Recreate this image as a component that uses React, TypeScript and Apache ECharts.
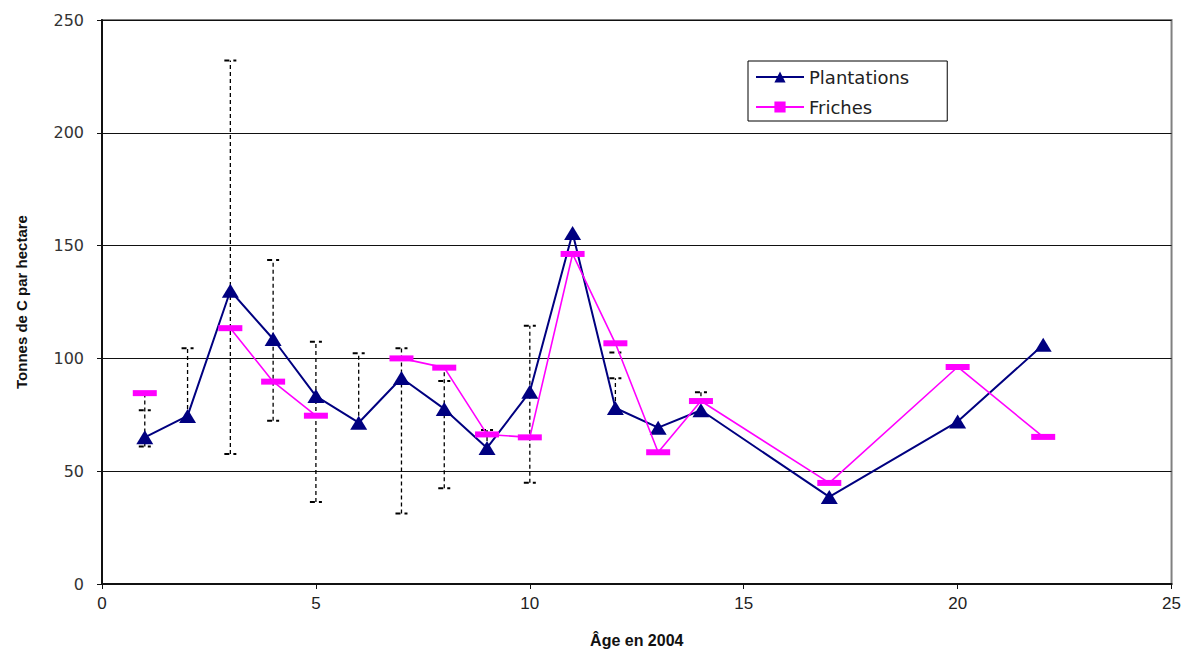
import React, { useEffect, useRef } from "react";
import * as echarts from "echarts";

const plantAges = [1, 2, 3, 4, 5, 6, 7, 8, 9, 10, 11, 12, 13, 14, 17, 20, 22];
const plantValues = [65, 74.5, 130, 108.6, 83.3, 71.5, 91.3, 77.6, 60.3, 85.2, 155.6, 78, 69.3, 77, 38.6, 72, 106];

// null = no value for that age (the line breaks there)
const fricheAges = [1, 2, 3, 4, 5, 6, 7, 8, 9, 10, 11, 12, 13, 14, 17, 20, 22];
const fricheValues = [84.6, null, 113.4, 89.7, 74.6, null, 100, 95.9, 66.3, 65, 146.3, 106.7, 58.4, 81.1, 44.8, 96.2, 65.2];

// dashed error-bar stems: [age, from, to]
const errStems = [
  [1, 61, 84],
  [2, 74.5, 104.5],
  [3, 57.6, 232],
  [4, 72.4, 143.6],
  [5, 36.3, 107.4],
  [6, 71.5, 102.3],
  [7, 31.3, 104.5],
  [8, 42.4, 95.9],
  [9, 60.3, 68.3],
  [10, 44.9, 114.5],
  [12, 78, 91.2],
  [14, 77, 85],
];
// error-bar caps: [age, value]
const errCaps = [
  [1, 77], [1, 61], [2, 104.5], [3, 232], [3, 57.6], [4, 143.6], [4, 72.4],
  [5, 107.4], [5, 36.3], [6, 102.3], [7, 104.5], [7, 31.3], [8, 90], [8, 42.4],
  [9, 68.3], [10, 114.5], [10, 44.9], [12, 102.6], [12, 91.2], [14, 85],
];

const yTicks = [0, 50, 100, 150, 200, 250];
const xTicks = [0, 5, 10, 15, 20, 25];

export default function App() {
  const ref = useRef<HTMLDivElement>(null);
  useEffect(() => {
    if (!ref.current) return;
    const chart = echarts.init(ref.current, null, { renderer: "svg" });
    const plantData = plantAges.map((a, i) => [a, plantValues[i]]);
    const fricheData = fricheAges.map((a, i) => [a, fricheValues[i] === null ? "-" : fricheValues[i]]);
    chart.setOption({
      animation: false,
      backgroundColor: "#fff",
      grid: {
        left: 102,
        right: 12,
        top: 20,
        bottom: 69,
        show: true,
        borderColor: "#808080",
        borderWidth: 2,
      },
      legend: {
        data: ["Plantations", "Friches"],
        orient: "vertical",
        left: 748,
        top: 61,
        backgroundColor: "#fff",
        borderColor: "#000",
        borderWidth: 1,
        borderRadius: 0,
        padding: [7, 38, 5, 7],
        itemGap: 12,
        itemWidth: 48,
        itemHeight: 14,
        textStyle: {
          fontFamily: "'DejaVu Sans', sans-serif",
          fontSize: 18,
          color: "#222",
        },
      },
      xAxis: {
        type: "value",
        min: xTicks[0],
        max: xTicks[xTicks.length - 1],
        interval: 5,
        name: "Âge en 2004",
        nameLocation: "middle",
        nameGap: 48,
        nameTextStyle: {
          fontFamily: "'Liberation Sans Narrow', 'Liberation Sans', sans-serif",
          fontWeight: "bold",
          fontSize: 16,
          color: "#111",
        },
        axisLine: { show: true, lineStyle: { color: "#111", width: 2 } },
        axisTick: { show: true, length: 5, lineStyle: { color: "#111" } },
        axisLabel: {
          margin: 11,
          fontFamily: "'Liberation Sans Narrow', 'Liberation Sans', sans-serif",
          fontSize: 17,
          color: "#222",
        },
        splitLine: { show: false },
      },
      yAxis: {
        type: "value",
        min: yTicks[0],
        max: yTicks[yTicks.length - 1],
        interval: 50,
        name: "Tonnes de C par hectare",
        nameLocation: "middle",
        nameGap: 73,
        nameRotate: 90,
        nameTextStyle: {
          fontFamily: "'Liberation Sans', Arial, sans-serif",
          fontWeight: "bold",
          fontSize: 15,
          color: "#111",
        },
        axisLine: { show: true, lineStyle: { color: "#111", width: 2 } },
        axisTick: { show: true, length: 5, lineStyle: { color: "#111" } },
        axisLabel: {
          margin: 18,
          fontFamily: "'DejaVu Sans', sans-serif",
          fontSize: 16,
          color: "#333",
        },
        splitLine: { show: true, lineStyle: { color: "#111", width: 1.2 } },
      },
      series: [
        {
          type: "custom",
          name: "errStems",
          z: 1,
          silent: true,
          data: errStems,
          encode: { x: 0, y: [1, 2] },
          renderItem: (params: any, api: any) => {
            const x = api.value(0);
            const p1 = api.coord([x, api.value(1)]);
            const p2 = api.coord([x, api.value(2)]);
            return {
              type: "line",
              shape: { x1: p1[0], y1: p1[1], x2: p2[0], y2: p2[1] },
              style: { stroke: "#000", lineWidth: 1.3, lineDash: [4, 3] },
            };
          },
        },
        {
          type: "custom",
          name: "errCaps",
          z: 1,
          silent: true,
          data: errCaps,
          encode: { x: 0, y: 1 },
          renderItem: (params: any, api: any) => {
            const p = api.coord([api.value(0), api.value(1)]);
            return {
              type: "line",
              shape: { x1: p[0] - 6, y1: p[1], x2: p[0] + 6, y2: p[1] },
              style: { stroke: "#000", lineWidth: 2, lineDash: [5, 4] },
            };
          },
        },
        {
          type: "line",
          name: "Plantations",
          z: 3,
          data: plantData,
          symbol: "triangle",
          symbolSize: [17, 14],
          showAllSymbol: true,
          lineStyle: { color: "#000080", width: 2 },
          itemStyle: { color: "#000080" },
        },
        {
          type: "line",
          name: "Friches",
          z: 4,
          data: fricheData,
          connectNulls: false,
          symbol: "rect",
          symbolSize: [24, 6],
          showAllSymbol: true,
          lineStyle: { color: "#FF00FF", width: 1.6 },
          itemStyle: { color: "#FF00FF" },
        },
      ],
    });
    return () => chart.dispose();
  }, []);
  return (
    <div
      ref={ref}
      style={{ position: "fixed", left: 0, top: 0, width: 1184, height: 653 }}
    />
  );
}
